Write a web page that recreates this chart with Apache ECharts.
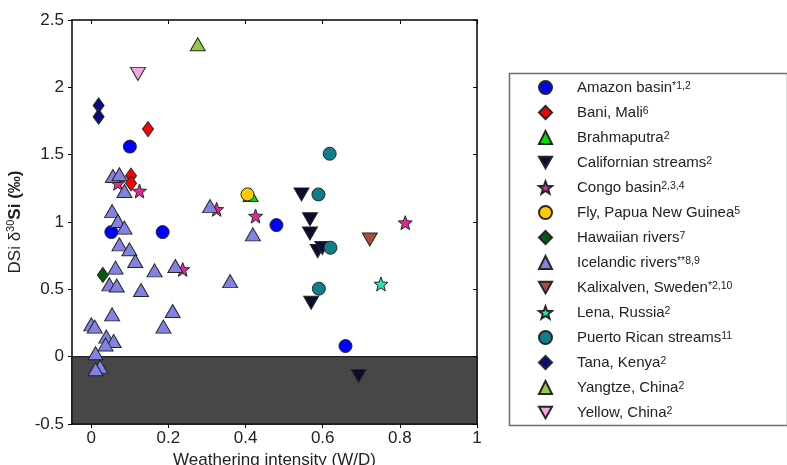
<!DOCTYPE html>
<html><head><meta charset="utf-8">
<script src="https://cdn.jsdelivr.net/npm/echarts@6/dist/echarts.min.js"></script>
<style>html,body{margin:0;padding:0;background:#fff}#c{width:787px;height:465px}</style>
</head><body><div id="c"></div>
<script>
const FONT = '"Liberation Sans", Arial, Helvetica, sans-serif';

// ---- data ----
const xTickValues = [0, 0.2, 0.4, 0.6, 0.8, 1];
const seriesNames = ['Amazon basin', 'Bani, Mali', 'Brahmaputra', 'Californian streams', 'Congo basin',
  'Fly, Papua New Guinea', 'Hawaiian rivers', 'Icelandic rivers', 'Kalixalven, Sweden', 'Lena, Russia',
  'Puerto Rican streams', 'Tana, Kenya', 'Yangtze, China', 'Yellow, China'];
const superscripts = ['*1,2', '6', '2', '2', '2,3,4', '5', '7', '**8,9', '*2,10', '2', '11', '2', '2', '2'];

const amazon = [[0.100, 1.56], [0.052, 0.925], [0.185, 0.925], [0.480, 0.977], [0.659, 0.079]];
const bani = [[0.147, 1.69], [0.103, 1.344], [0.103, 1.287]];
const brahmaputra = [[0.413, 1.20]];
const californian = [[0.545, 1.205], [0.567, 1.02], [0.567, 0.915], [0.587, 0.784], [0.599, 0.808], [0.570, 0.40], [0.693, -0.144]];
const congo = [[0.069, 1.287], [0.125, 1.23], [0.325, 1.094], [0.426, 1.044], [0.237, 0.648], [0.814, 0.995]];
const fly = [[0.405, 1.205]];
const hawaiian = [[0.030, 0.607]];
const icelandic = [[0.056, 1.341], [0.073, 1.354], [0.086, 1.23], [0.054, 1.081], [0.069, 1.007], [0.086, 0.958],
  [0.073, 0.834], [0.099, 0.797], [0.114, 0.71], [0.063, 0.661], [0.164, 0.641], [0.218, 0.673], [0.047, 0.537],
  [0.066, 0.529], [0.129, 0.495], [0.054, 0.314], [0.211, 0.339], [0.187, 0.223], [0.000, 0.24], [0.009, 0.223],
  [0.039, 0.149], [0.058, 0.116], [0.037, 0.091], [0.011, 0.025], [0.023, -0.074], [0.011, -0.094],
  [0.308, 1.118], [0.360, 0.561], [0.419, 0.908]];
const kalix = [[0.722, 0.87]];
const lena = [[0.751, 0.54]];
const puertoRico = [[0.618, 1.507], [0.589, 1.205], [0.620, 0.809], [0.590, 0.505]];
const tana = [[0.019, 1.866], [0.019, 1.782]];
const yangtze = [[0.276, 2.32]];
const yellow = [[0.121, 2.10]];

// ---- styles ----
const STAR = 'path://M0,-10 L2.47,-3.4 L9.51,-3.09 L3.99,1.3 L5.88,8.09 L0,4.2 L-5.88,8.09 L-3.99,1.3 L-9.51,-3.09 L-2.47,-3.4 Z';
const DOWN = 'path://M0,0 L15,0 L7.5,13 Z';
const seriesData = [amazon, bani, brahmaputra, californian, congo, fly, hawaiian, icelandic, kalix, lena, puertoRico, tana, yangtze, yellow];
const seriesStyle = [
  {symbol: 'circle', size: 13, color: '#0000ff'},
  {symbol: 'diamond', size: [11, 15], color: '#ff0000'},
  {symbol: 'triangle', size: [15, 13], color: '#00e000'},
  {symbol: DOWN, size: [15, 13], color: '#0b0b2e'},
  {symbol: STAR, size: 14, color: '#e0289a'},
  {symbol: 'circle', size: 13, color: '#ffcc00'},
  {symbol: 'diamond', size: [11, 15], color: '#005a10'},
  {symbol: 'triangle', size: [15, 13], color: '#8282e2'},
  {symbol: DOWN, size: [15, 13], color: '#a3503e'},
  {symbol: STAR, size: 14, color: '#2de0b5'},
  {symbol: 'circle', size: 13, color: '#0c7f8a'},
  {symbol: 'diamond', size: [11, 15], color: '#0a0a7a'},
  {symbol: 'triangle', size: [15, 13], color: '#92cc44'},
  {symbol: DOWN, size: [15, 13], color: '#f4a6e6'}
];

const series = [{
  type: 'scatter', name: '_shade', data: [], silent: true, z: 1,
  markArea: {
    silent: true,
    itemStyle: {color: '#474747', borderColor: '#000', borderWidth: 1},
    data: [[{yAxis: -0.5}, {yAxis: 0}]]
  }
}];
seriesNames.forEach((n, i) => {
  const s = seriesStyle[i];
  series.push({
    type: 'scatter', name: n, data: seriesData[i], z: 3,
    symbol: s.symbol, symbolSize: s.size,
    itemStyle: {color: s.color, borderColor: '#262626', borderWidth: 1, opacity: 1}
  });
});

const chart = echarts.init(document.getElementById('c'), null, {renderer: 'canvas'});
chart.setOption({
  animation: false,
  backgroundColor: '#fff',
  textStyle: {fontFamily: FONT},
  grid: {left: 72, right: 310, top: 20, bottom: 41, containLabel: false, outerBoundsMode: 'none'},
  graphic: [{
    type: 'rect', left: 507, top: 71, silent: true,
    shape: {x: 0, y: 0, width: 278, height: 352},
    style: {fill: 'none', stroke: '#6e6e6e', lineWidth: 1.5}
  }],
  legend: {
    orient: 'vertical', left: 538, top: 80, padding: 0,
    itemWidth: 13, itemHeight: 13, itemGap: 10,
    data: seriesNames,
    formatter: function (name) {
      const i = seriesNames.indexOf(name);
      return '{n|' + name + '}{s|' + superscripts[i] + '}';
    },
    textStyle: {
      fontFamily: FONT, color: '#222',
      rich: {
        n: {fontSize: 15, lineHeight: 14, padding: [0, 0, 0, 20], color: '#222', fontFamily: FONT},
        s: {fontSize: 10.5, lineHeight: 10, verticalAlign: 'top', color: '#222', fontFamily: FONT}
      }
    }
  },
  xAxis: [{
    type: 'value', position: 'bottom', min: -0.05, max: 1,
    name: 'Weathering intensity (W/D)', nameLocation: 'middle', nameGap: 24,
    nameTextStyle: {fontSize: 17, color: '#222', fontFamily: FONT},
    axisLine: {show: true, onZero: false, lineStyle: {color: '#000', width: 1.5}},
    axisTick: {show: true, inside: false, length: 4, customValues: xTickValues, lineStyle: {color: '#000'}},
    axisLabel: {customValues: xTickValues, fontSize: 17, color: '#222', margin: 6, fontFamily: FONT},
    splitLine: {show: false}
  }, {
    type: 'value', position: 'top', min: -0.05, max: 1,
    axisLine: {show: true, onZero: false, lineStyle: {color: '#000', width: 1.5}},
    axisTick: {show: true, inside: true, length: 4, customValues: xTickValues, lineStyle: {color: '#000'}},
    axisLabel: {show: false},
    splitLine: {show: false}
  }],
  yAxis: [{
    type: 'value', position: 'left', min: -0.5, max: 2.5, interval: 0.5,
    name: '{r|DSi δ}{s|30}{b|Si (‰)}', nameLocation: 'middle', nameGap: 42, nameRotate: 90,
    nameTextStyle: {
      fontSize: 17, color: '#222', fontFamily: FONT,
      rich: {
        r: {fontSize: 17, lineHeight: 19, color: '#222', fontFamily: FONT},
        s: {fontSize: 11, lineHeight: 10, verticalAlign: 'top', color: '#222', fontFamily: FONT},
        b: {fontSize: 17, lineHeight: 19, fontWeight: 'bold', color: '#222', fontFamily: FONT}
      }
    },
    axisLine: {show: true, onZero: false, lineStyle: {color: '#000', width: 1.5}},
    axisTick: {show: true, inside: false, length: 4, lineStyle: {color: '#000'}},
    axisLabel: {fontSize: 17, color: '#222', margin: 8, fontFamily: FONT},
    splitLine: {show: false}
  }, {
    type: 'value', position: 'right', min: -0.5, max: 2.5, interval: 0.5,
    axisLine: {show: true, onZero: false, lineStyle: {color: '#000', width: 1.5}},
    axisTick: {show: true, inside: true, length: 4, lineStyle: {color: '#000'}},
    axisLabel: {show: false},
    splitLine: {show: false}
  }],
  series: series
});
</script>
</body></html>
